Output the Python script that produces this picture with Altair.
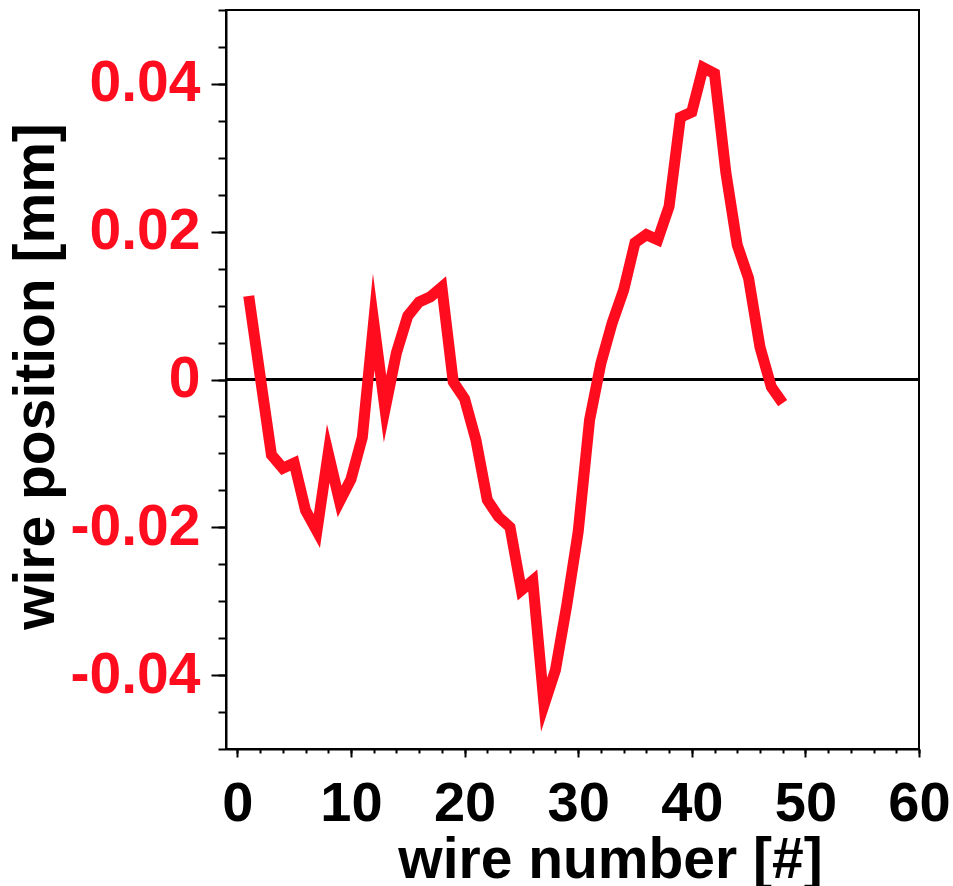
import altair as alt
import pandas as pd

# wire index and measured offset of each wire from its nominal position
wire = list(range(1, 49))
position_mm = [
    0.0113, 0.0005, -0.0102, -0.0120, -0.0113, -0.0177, -0.0205, -0.0100,
    -0.0165, -0.0135, -0.0078, 0.0078, -0.0040, 0.0036, 0.0086, 0.0105,
    0.0112, 0.0125, -0.0003, -0.0026, -0.0082, -0.0163, -0.0186, -0.0200,
    -0.0285, -0.0272, -0.0440, -0.0393, -0.0305, -0.0206, -0.0055, 0.0022,
    0.0077, 0.0121, 0.0185, 0.0196, 0.0189, 0.0234, 0.0355, 0.0362,
    0.0422, 0.0414, 0.0280, 0.0182, 0.0137, 0.0044, -0.0010, -0.0032,
]

x_major = [0, 10, 20, 30, 40, 50, 60]
x_minor = list(range(0, 61, 2))
y_major = [-0.04, -0.02, 0.0, 0.02, 0.04]
y_minor = [round(-0.05 + 0.005 * i, 3) for i in range(21)]

df = pd.DataFrame({"wire": wire, "pos": position_mm})

RED = "#ff0c1e"
FONT = "Liberation Sans"

xs = alt.Scale(domain=[-1, 60], nice=False, zero=False)
ys = alt.Scale(domain=[-0.05, 0.05], nice=False, zero=False)

x_axis_major = alt.Axis(
    orient="bottom", values=x_major, tickSize=8, tickWidth=2, tickColor="black",
    domain=True, domainColor="black", domainWidth=2, grid=False,
    labelFont=FONT, labelFontSize=56, labelFontWeight="bold",
    labelColor="black", labelBaseline="alphabetic", labelPadding=63,
    labelFlush=False, labelOverlap=False,
    title="wire number [#]", titleFont=FONT, titleFontSize=57, titleFontWeight="bold",
    titleColor="black", titleX=384, titleY=128, titleAlign="center",
    titleBaseline="alphabetic",
)
x_axis_minor = alt.Axis(
    orient="bottom", values=x_minor, tickSize=4, tickWidth=2, tickColor="black",
    domain=False, grid=False, labels=False, title=None,
)
y_axis_major = alt.Axis(
    orient="left", values=y_major, tickSize=15, tickWidth=2, tickColor="black",
    domain=True, domainColor="black", domainWidth=2, grid=False,
    labelFont=FONT, labelFontSize=57, labelFontWeight="bold", labelColor=RED,
    labelBaseline="middle", labelPadding=11, labelFlush=False, labelOverlap=False,
    labelExpr="datum.value == 0 ? '0' : (datum.value < 0 ? '-' : '') + format(abs(datum.value), '.2f')",
    title="wire position [mm]", titleFont=FONT, titleFontSize=57, titleFontWeight="bold",
    titleColor="black", titleX=-173, titleY=366, titleAngle=270, titleAlign="center",
    titleBaseline="alphabetic",
)
y_axis_minor = alt.Axis(
    orient="left", values=y_minor, tickSize=8, tickWidth=2, tickColor="black",
    domain=False, grid=False, labels=False, title=None,
)

base = alt.Chart(df)

ticks = base.mark_point(opacity=0).encode(
    x=alt.X("wire:Q", scale=xs, axis=x_axis_minor),
    y=alt.Y("pos:Q", scale=ys, axis=y_axis_minor),
)

zero_line = base.mark_rule(color="black", strokeWidth=2).encode(
    y=alt.YDatum(0, axis=None),
)

curve = base.mark_line(
    color=RED, strokeWidth=11, strokeJoin="miter", strokeMiterLimit=12,
).encode(
    x=alt.X("wire:Q", scale=xs, axis=x_axis_major),
    y=alt.Y("pos:Q", scale=ys, axis=y_axis_major),
)

chart = (
    alt.layer(ticks, zero_line, curve)
    .resolve_axis(x="independent", y="independent")
    .properties(
        width=693,
        height=739,
        autosize="none",
        padding={"left": 226, "top": 10, "right": 34, "bottom": 137},
        background="white",
    )
    .configure_view(stroke="black", strokeWidth=2)
)

chart.save("out.html", embed_options={"renderer": "svg", "actions": False})
